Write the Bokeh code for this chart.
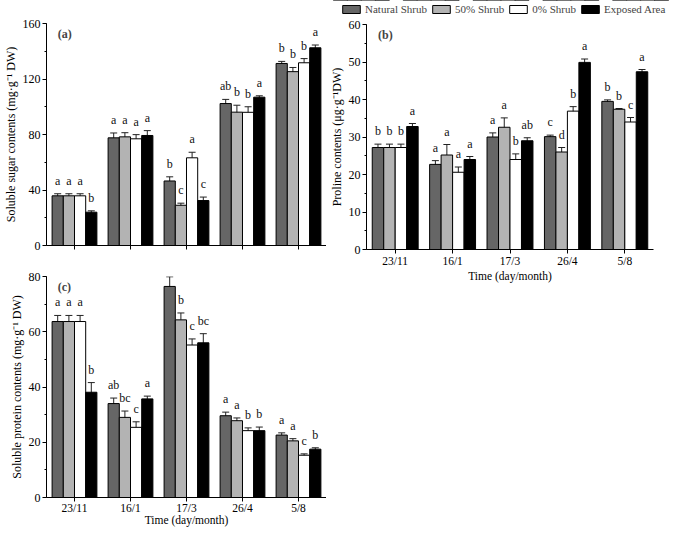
from bokeh.plotting import figure
from bokeh.models import (ColumnDataSource, FactorRange, Whisker, TeeHead,
                          SingleIntervalTicker, Legend, LegendItem, Range1d, Label,
                          CustomJSTickFormatter, Spacer)
from bokeh.transform import dodge
from bokeh.layouts import row, column
from bokeh.embed import file_html
from bokeh.resources import INLINE
from bokeh.core.properties import value

# ---------------- data ----------------
dates = ["23/11", "16/1", "17/3", "26/4", "5/8"]
series = ["Natural Shrub", "50% Shrub", "0% Shrub", "Exposed Area"]
colors = ["#666666", "#b3b3b3", "#ffffff", "#000000"]
offsets = [-0.3, -0.1, 0.1, 0.3]

# (a) soluble sugar (mg/g DW)
sugar_ns = [35.8, 77.6, 46.5, 102.3, 131.2]
sugar_50 = [35.8, 78.3, 29.0, 96.1, 125.3]
sugar_0 = [35.8, 76.9, 63.2, 96.0, 131.7]
sugar_ea = [24.0, 79.3, 32.4, 106.9, 142.5]
sugar_ns_err = [1.5, 3.5, 3.0, 3.0, 1.5]
sugar_50_err = [1.5, 3.0, 1.5, 5.0, 3.0]
sugar_0_err = [1.5, 3.0, 4.0, 4.0, 3.0]
sugar_ea_err = [1.0, 3.5, 2.5, 1.0, 2.0]
sugar_ns_lab = ["a", "a", "b", "ab", "b"]
sugar_50_lab = ["a", "a", "c", "b", "b"]
sugar_0_lab = ["a", "a", "a", "b", "b"]
sugar_ea_lab = ["b", "a", "c", "a", "a"]

# (b) proline (ug/g DW)
pro_ns = [27.2, 22.7, 30.0, 30.1, 39.5]
pro_50 = [27.2, 25.2, 32.6, 26.0, 37.4]
pro_0 = [27.2, 20.6, 24.0, 36.9, 34.0]
pro_ea = [32.8, 24.0, 29.0, 49.9, 47.4]
pro_ns_err = [0.9, 1.0, 1.1, 0.4, 0.4]
pro_50_err = [0.9, 2.8, 2.5, 1.2, 0.2]
pro_0_err = [0.9, 1.4, 1.5, 1.2, 1.2]
pro_ea_err = [0.8, 0.8, 0.8, 0.9, 0.6]
pro_ns_lab = ["b", "a", "a", "c", "b"]
pro_50_lab = ["b", "a", "a", "d", "b"]
pro_0_lab = ["b", "a", "b", "b", "c"]
pro_ea_lab = ["a", "a", "ab", "a", "a"]

# (c) soluble protein (mg/g DW)
prot_ns = [63.7, 34.0, 76.4, 29.6, 22.6]
prot_50 = [63.7, 29.0, 64.3, 27.8, 20.5]
prot_0 = [63.7, 25.4, 55.2, 24.2, 15.3]
prot_ea = [38.1, 35.7, 56.0, 24.2, 17.5]
prot_ns_err = [2.2, 2.0, 3.5, 1.3, 0.8]
prot_50_err = [2.2, 2.3, 2.5, 1.0, 0.8]
prot_0_err = [2.2, 2.0, 2.2, 1.0, 0.5]
prot_ea_err = [3.5, 1.0, 3.3, 1.3, 0.5]
prot_ns_lab = ["a", "ab", "a", "a", "a"]
prot_50_lab = ["a", "bc", "b", "a", "a"]
prot_0_lab = ["a", "c", "c", "b", "c"]
prot_ea_lab = ["b", "a", "bc", "b", "b"]

FONT = "Liberation Serif"


def make_panel(tag, ylabel, ymax, interval, vals, errs, labs, show_x,
               width, height, bl, br, bt, bb):
    p = figure(x_range=FactorRange(factors=dates, range_padding=0),
               y_range=Range1d(0, ymax), width=width, height=height,
               output_backend="svg", toolbar_location=None,
               min_border_left=bl, min_border_right=br,
               min_border_top=bt, min_border_bottom=bb)
    p.grid.visible = False
    p.outline_line_color = None
    sources = []
    for i in range(4):
        up = [v + e for v, e in zip(vals[i], errs[i])]
        lo = [v - e for v, e in zip(vals[i], errs[i])]
        src = ColumnDataSource(dict(x=dates, top=vals[i], upper=up, lower=lo, lab=labs[i]))
        sources.append(src)
        xd = dodge("x", offsets[i], range=p.x_range)
        p.vbar(x=xd, top="top", width=0.2, source=src,
               fill_color=colors[i], line_color="black", line_width=1)
        w = Whisker(base=xd, upper="upper", lower="lower", source=src,
                    line_color="#222222", line_width=1,
                    upper_head=TeeHead(size=7, line_color="#222222", line_width=1),
                    lower_head=TeeHead(size=7, line_color="#222222", line_width=1))
        p.add_layout(w)
        p.text(x=xd, y="upper", text="lab", source=src, y_offset=-6,
               text_align="center", text_baseline="bottom",
               text_font=value(FONT), text_font_size="12px", text_color="#111111")
    p.add_layout(Label(x=0.2, y=ymax, y_offset=-3, text=tag, text_font=FONT,
                       text_font_style="bold", text_font_size="12px",
                       text_baseline="top"))
    p.yaxis.ticker = SingleIntervalTicker(interval=interval, num_minor_ticks=2)
    for ax in (p.xaxis[0], p.yaxis[0]):
        ax.axis_line_color = "black"
        ax.major_tick_line_color = "black"
        ax.minor_tick_line_color = "black"
        ax.major_tick_out = 4
        ax.major_tick_in = 0
        ax.minor_tick_out = 2
        ax.minor_tick_in = 0
        ax.major_label_text_font = FONT
        ax.major_label_text_font_size = "12px"
        ax.major_label_text_color = "black"
        ax.axis_label_text_font = FONT
        ax.axis_label_text_font_size = "12px"
        ax.axis_label_text_font_style = "normal"
        ax.axis_label_text_color = "black"
        ax.major_label_standoff = 2
        ax.axis_label_standoff = 2
    p.xaxis.major_label_standoff = 1
    p.xaxis.axis_label_standoff = 0
    p.xaxis.major_label_text_font_size = "11.5px"
    p.xaxis.axis_label_text_font_size = "11.5px"
    p.yaxis.axis_label = ylabel
    if show_x:
        p.xaxis.axis_label = "Time (day/month)"
    else:
        p.xaxis.formatter = CustomJSTickFormatter(code="return ''")
    return p, sources


pa, _ = make_panel("(a)", "Soluble sugar contents (mg·g⁻¹ DW)", 160, 40,
                   [sugar_ns, sugar_50, sugar_0, sugar_ea],
                   [sugar_ns_err, sugar_50_err, sugar_0_err, sugar_ea_err],
                   [sugar_ns_lab, sugar_50_lab, sugar_0_lab, sugar_ea_lab],
                   False, 326, 242, 37, 0, 8, 12)
pb, src_b = make_panel("(b)", "Proline contents (μg·g⁻¹DW)", 60, 10,
                       [pro_ns, pro_50, pro_0, pro_ea],
                       [pro_ns_err, pro_50_err, pro_0_err, pro_ea_err],
                       [pro_ns_lab, pro_50_lab, pro_0_lab, pro_ea_lab],
                       True, 349, 270, 37, 22, 9, 36)
pc, _ = make_panel("(c)", "Soluble protein contents (mg·g⁻¹ DW)", 80, 20,
                   [prot_ns, prot_50, prot_0, prot_ea],
                   [prot_ns_err, prot_50_err, prot_0_err, prot_ea_err],
                   [prot_ns_lab, prot_50_lab, prot_0_lab, prot_ea_lab],
                   True, 326, 271, 37, 0, 19, 30)
pc.xaxis.major_label_standoff = 0
pc.xaxis.axis_label_standoff = -3

# legend strip above panel (b): same bars as (b), viewed far outside their value range
lf = figure(width=349, height=15, x_range=pb.x_range, y_range=Range1d(-1001, -1000),
            output_backend="svg", toolbar_location=None,
            x_axis_location=None, y_axis_location=None,
            min_border_left=0, min_border_right=0, min_border_top=0, min_border_bottom=0)
lf.grid.visible = False
lf.outline_line_color = None
items = []
for i, s in enumerate(series):
    r = lf.vbar(x=dodge("x", offsets[i], range=lf.x_range), top="top", width=0.2,
                source=src_b[i], fill_color=colors[i], line_color="black", line_width=1)
    items.append(LegendItem(label=s, renderers=[r]))
legend = Legend(items=items, orientation="horizontal", location=(14, 0))
legend.border_line_color = None
legend.background_fill_alpha = 0
legend.padding = 0
legend.margin = 0
legend.spacing = 3
legend.glyph_width = 22
legend.glyph_height = 10
legend.label_height = 10
legend.label_standoff = 3
legend.label_text_font = FONT
legend.label_text_font_size = "11px"
legend.label_text_baseline = "middle"
lf.add_layout(legend)

layout = column(row(Spacer(width=326, height=15), lf),
                row(column(pa, pc), pb))
open("out.html", "w").write(file_html(layout, INLINE))
